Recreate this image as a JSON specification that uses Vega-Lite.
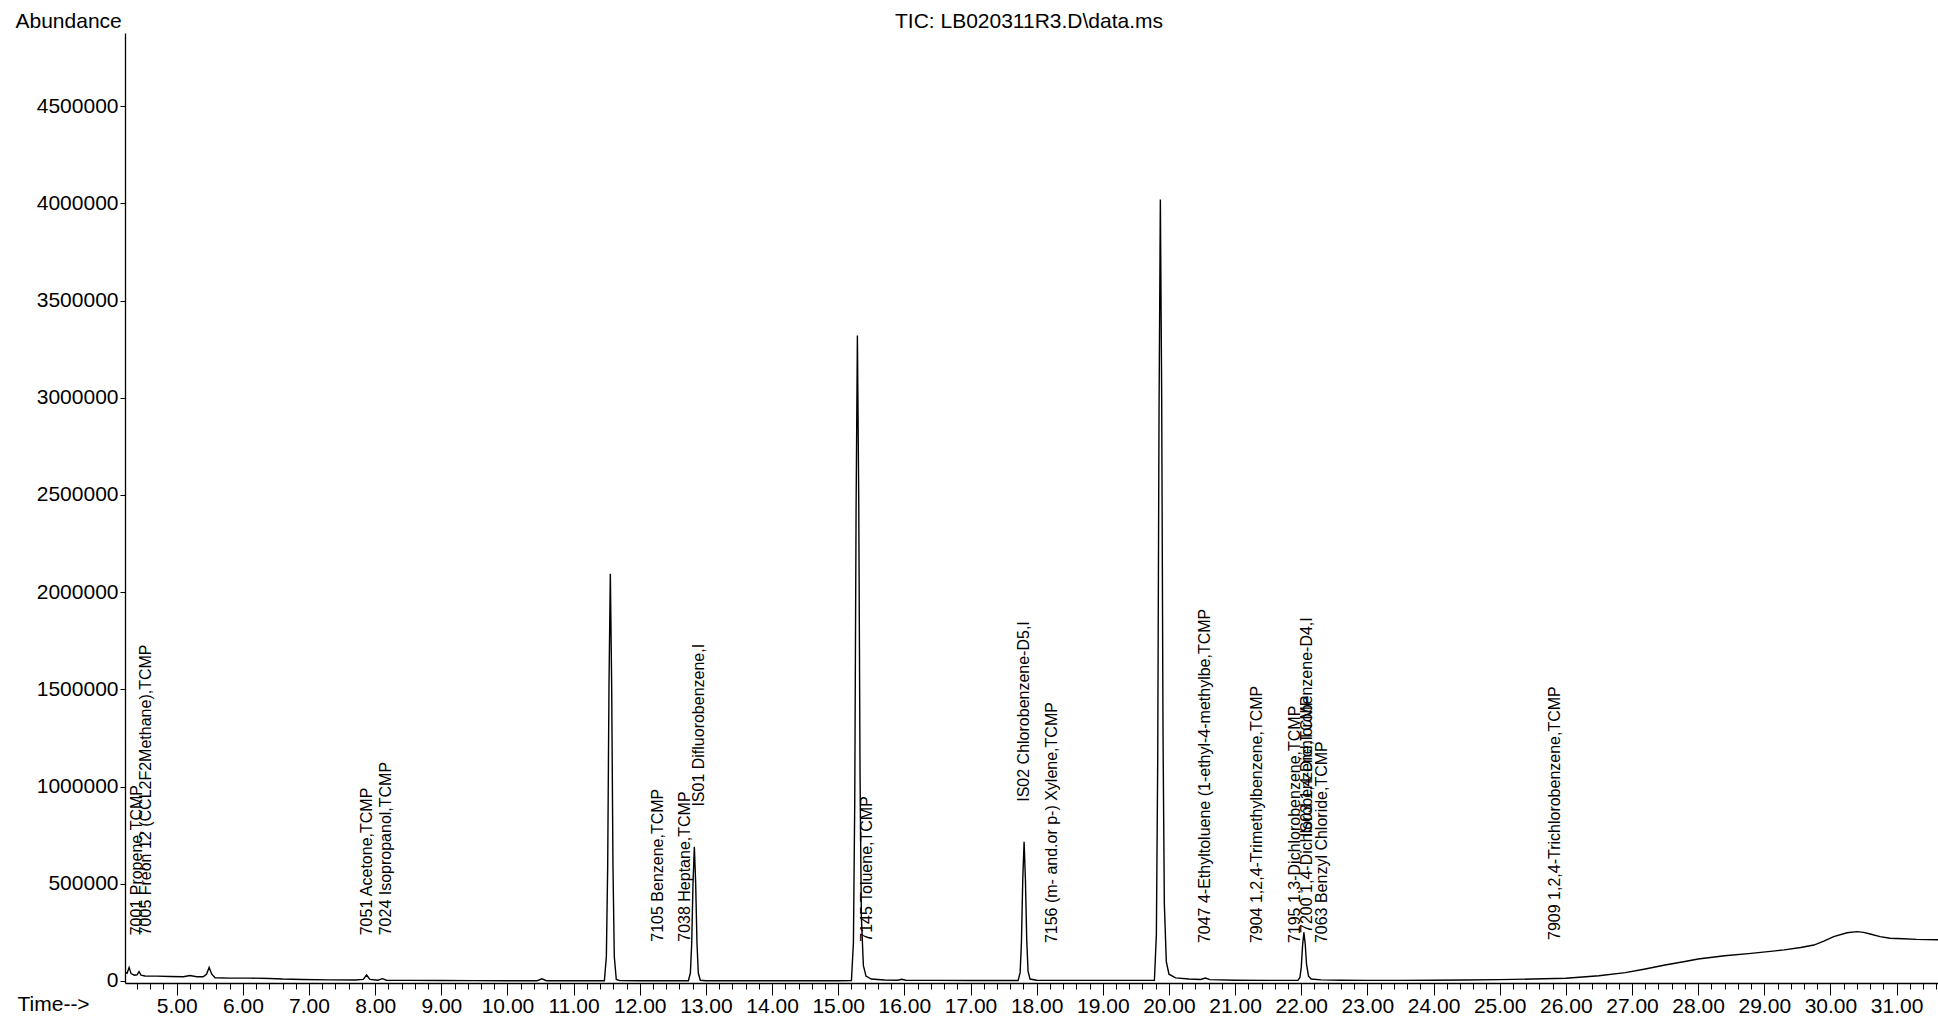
{
  "$schema": "https://vega.github.io/schema/vega-lite/v6.json",
  "width": 1813,
  "height": 950,
  "autosize": {"type": "none"},
  "padding": {"left": 125, "top": 33, "right": 0, "bottom": 43},
  "background": "white",
  "config": {"view": {"stroke": null}, "font": "Liberation Sans"},
  "resolve": {"axis": {"x": "independent", "y": "independent"}},
  "datasets": {
    "trace": [
      {"t": 4.218, "v": 45000}, {"t": 4.25, "v": 40000}, {"t": 4.28, "v": 70000}, {"t": 4.31, "v": 38000},
      {"t": 4.36, "v": 30000}, {"t": 4.40, "v": 32000}, {"t": 4.43, "v": 48000}, {"t": 4.46, "v": 30000},
      {"t": 4.52, "v": 26000}, {"t": 4.7, "v": 25000}, {"t": 4.9, "v": 23000}, {"t": 5.1, "v": 22000},
      {"t": 5.2, "v": 28000}, {"t": 5.3, "v": 22000}, {"t": 5.40, "v": 22000}, {"t": 5.45, "v": 35000},
      {"t": 5.49, "v": 70000}, {"t": 5.53, "v": 35000}, {"t": 5.58, "v": 17000}, {"t": 5.8, "v": 15000},
      {"t": 6.1, "v": 15000}, {"t": 6.4, "v": 13000}, {"t": 6.6, "v": 10000}, {"t": 6.9, "v": 8000},
      {"t": 7.3, "v": 6000}, {"t": 7.7, "v": 5000}, {"t": 7.82, "v": 8000}, {"t": 7.87, "v": 31000},
      {"t": 7.92, "v": 8000}, {"t": 8.04, "v": 4000}, {"t": 8.11, "v": 12000}, {"t": 8.17, "v": 4000},
      {"t": 8.5, "v": 3000}, {"t": 9.0, "v": 2500}, {"t": 9.5, "v": 2000}, {"t": 10.0, "v": 1500},
      {"t": 10.45, "v": 1500}, {"t": 10.52, "v": 11000}, {"t": 10.59, "v": 1500}, {"t": 11.0, "v": 1000},
      {"t": 11.465, "v": 1500}, {"t": 11.495, "v": 126000}, {"t": 11.515, "v": 587000}, {"t": 11.535, "v": 1530000},
      {"t": 11.555, "v": 2095000}, {"t": 11.575, "v": 1530000}, {"t": 11.595, "v": 587000}, {"t": 11.615, "v": 126000},
      {"t": 11.645, "v": 8000}, {"t": 11.7, "v": 2000}, {"t": 12.0, "v": 1500}, {"t": 12.5, "v": 1500},
      {"t": 12.735, "v": 1500}, {"t": 12.765, "v": 41000}, {"t": 12.785, "v": 193000}, {"t": 12.805, "v": 504000},
      {"t": 12.825, "v": 690000}, {"t": 12.845, "v": 504000}, {"t": 12.865, "v": 193000}, {"t": 12.885, "v": 41000},
      {"t": 12.915, "v": 4000}, {"t": 13.0, "v": 1500}, {"t": 14.0, "v": 1000}, {"t": 15.0, "v": 1500},
      {"t": 15.2, "v": 2000}, {"t": 15.23, "v": 199000}, {"t": 15.25, "v": 930000}, {"t": 15.27, "v": 2420000},
      {"t": 15.29, "v": 3320000}, {"t": 15.31, "v": 2490000}, {"t": 15.33, "v": 1060000}, {"t": 15.35, "v": 330000},
      {"t": 15.38, "v": 80000}, {"t": 15.42, "v": 25000}, {"t": 15.5, "v": 10000}, {"t": 15.7, "v": 5000},
      {"t": 15.9, "v": 4000}, {"t": 15.96, "v": 9000}, {"t": 16.02, "v": 4000}, {"t": 16.5, "v": 3000},
      {"t": 17.0, "v": 2500}, {"t": 17.72, "v": 2500}, {"t": 17.75, "v": 43000}, {"t": 17.77, "v": 200000},
      {"t": 17.79, "v": 523000}, {"t": 17.81, "v": 716000}, {"t": 17.83, "v": 523000}, {"t": 17.85, "v": 210000},
      {"t": 17.87, "v": 50000}, {"t": 17.9, "v": 10000}, {"t": 18.0, "v": 4000}, {"t": 18.5, "v": 3000},
      {"t": 19.0, "v": 3000}, {"t": 19.5, "v": 3000}, {"t": 19.78, "v": 4000}, {"t": 19.81, "v": 241000},
      {"t": 19.83, "v": 1130000}, {"t": 19.85, "v": 2930000}, {"t": 19.87, "v": 4020000}, {"t": 19.89, "v": 3010000},
      {"t": 19.91, "v": 1290000}, {"t": 19.93, "v": 400000}, {"t": 19.96, "v": 100000}, {"t": 20.0, "v": 35000},
      {"t": 20.1, "v": 16000}, {"t": 20.3, "v": 10000}, {"t": 20.48, "v": 8000}, {"t": 20.55, "v": 15000},
      {"t": 20.62, "v": 7000}, {"t": 21.0, "v": 4000}, {"t": 21.5, "v": 3000}, {"t": 21.95, "v": 3000},
      {"t": 21.98, "v": 18000}, {"t": 22.0, "v": 70000}, {"t": 22.02, "v": 183000}, {"t": 22.04, "v": 250000},
      {"t": 22.06, "v": 190000}, {"t": 22.08, "v": 85000}, {"t": 22.11, "v": 25000}, {"t": 22.15, "v": 10000},
      {"t": 22.3, "v": 6000}, {"t": 22.6, "v": 4000}, {"t": 23.0, "v": 3000}, {"t": 23.5, "v": 3000},
      {"t": 24.0, "v": 4000}, {"t": 24.5, "v": 5000}, {"t": 25.0, "v": 7000}, {"t": 25.5, "v": 10000},
      {"t": 26.0, "v": 14000}, {"t": 26.5, "v": 27000}, {"t": 26.9, "v": 43000}, {"t": 27.2, "v": 62000},
      {"t": 27.5, "v": 82000}, {"t": 27.8, "v": 100000}, {"t": 28.0, "v": 113000}, {"t": 28.4, "v": 130000},
      {"t": 28.8, "v": 142000}, {"t": 29.3, "v": 160000}, {"t": 29.55, "v": 172000}, {"t": 29.75, "v": 185000},
      {"t": 29.9, "v": 205000}, {"t": 30.05, "v": 228000}, {"t": 30.25, "v": 248000}, {"t": 30.4, "v": 254000},
      {"t": 30.5, "v": 250000}, {"t": 30.6, "v": 242000}, {"t": 30.75, "v": 228000}, {"t": 30.9, "v": 220000},
      {"t": 31.1, "v": 217000}, {"t": 31.3, "v": 214000}, {"t": 31.45, "v": 213000}, {"t": 31.626, "v": 212000}
    ],
    "labels": [
      {"t": 4.40, "v": 235000, "label": "7001 Propene,TCMP"},
      {"t": 4.54, "v": 235000, "label": "7005 Freon 12 (CCL2F2Methane),TCMP"},
      {"t": 7.87, "v": 235000, "label": "7051 Acetone,TCMP"},
      {"t": 8.16, "v": 235000, "label": "7024 Isopropanol,TCMP"},
      {"t": 12.27, "v": 202000, "label": "7105 Benzene,TCMP"},
      {"t": 12.68, "v": 202000, "label": "7038 Heptane,TCMP"},
      {"t": 12.89, "v": 897000, "label": "IS01 Difluorobenzene,I"},
      {"t": 15.44, "v": 202000, "label": "7145 Toluene,TCMP"},
      {"t": 17.81, "v": 922000, "label": "IS02 Chlorobenzene-D5,I"},
      {"t": 18.23, "v": 195000, "label": "7156 (m- and.or p-) Xylene,TCMP"},
      {"t": 20.55, "v": 195000, "label": "7047 4-Ethyltoluene (1-ethyl-4-methylbe,TCMP"},
      {"t": 21.33, "v": 195000, "label": "7904 1,2,4-Trimethylbenzene,TCMP"},
      {"t": 21.91, "v": 195000, "label": "7195 1,3-Dichlorobenzene,TCMP"},
      {"t": 22.08, "v": 247000, "label": "7200 1,4-Dichlorobenzene,TCMP"},
      {"t": 22.08, "v": 741000, "label": "IS03 1,4-Dichlorobenzene-D4,I"},
      {"t": 22.31, "v": 195000, "label": "7063 Benzyl Chloride,TCMP"},
      {"t": 25.84, "v": 211000, "label": "7909 1,2,4-Trichlorobenzene,TCMP"}
    ]
  },
  "layer": [
    {
      "data": {"name": "trace"},
      "mark": {"type": "line", "color": "black", "strokeWidth": 1.4, "clip": true},
      "encoding": {
        "x": {
          "field": "t", "type": "quantitative",
          "scale": {"domain": [4.218, 31.626], "nice": false, "zero": false},
          "axis": {
            "orient": "bottom",
            "title": "Time-->", "titleX": -108, "titleY": 21, "titleAlign": "left", "titleBaseline": "middle",
            "titleFontSize": 21, "titleFontWeight": "normal", "titleColor": "black", "titleFont": "Liberation Sans",
            "values": [5, 6, 7, 8, 9, 10, 11, 12, 13, 14, 15, 16, 17, 18, 19, 20, 21, 22, 23, 24, 25, 26, 27, 28, 29, 30, 31],
            "format": ".2f",
            "labelFontSize": 21, "labelColor": "black", "labelFont": "Liberation Sans",
            "labelPadding": 0, "labelOverlap": false, "labelFlush": false,
            "tickSize": 12, "tickColor": "black", "tickWidth": 1, "domainColor": "black", "domainWidth": 1.3, "grid": false
          }
        },
        "y": {
          "field": "v", "type": "quantitative",
          "scale": {"domain": [-10300, 4876500], "nice": false, "zero": false},
          "axis": {
            "orient": "left",
            "title": "Abundance", "titleAngle": 0, "titleX": -110, "titleY": -6, "titleAlign": "left", "titleBaseline": "alphabetic",
            "titleFontSize": 21, "titleFontWeight": "normal", "titleColor": "black", "titleFont": "Liberation Sans",
            "values": [0, 500000, 1000000, 1500000, 2000000, 2500000, 3000000, 3500000, 4000000, 4500000],
            "format": "d", "labelFontSize": 21, "labelColor": "black", "labelFont": "Liberation Sans",
            "labelPadding": 2, "tickSize": 5, "tickColor": "black", "domainColor": "black", "domainWidth": 1.3, "grid": false
          }
        }
      }
    },
    {
      "data": {"name": "labels"},
      "mark": {"type": "text", "angle": 270, "align": "left", "baseline": "middle", "fontSize": 16, "font": "Liberation Sans", "color": "black"},
      "encoding": {
        "x": {
          "field": "t", "type": "quantitative",
          "axis": {
            "orient": "bottom", "title": null, "labels": false, "domain": false, "grid": false,
            "values": [4.4, 4.6, 4.8, 5.2, 5.4, 5.6, 5.8, 6.2, 6.4, 6.6, 6.8, 7.2, 7.4, 7.6, 7.8, 8.2, 8.4, 8.6, 8.8, 9.2, 9.4, 9.6, 9.8, 10.2, 10.4, 10.6, 10.8, 11.2, 11.4, 11.6, 11.8, 12.2, 12.4, 12.6, 12.8, 13.2, 13.4, 13.6, 13.8, 14.2, 14.4, 14.6, 14.8, 15.2, 15.4, 15.6, 15.8, 16.2, 16.4, 16.6, 16.8, 17.2, 17.4, 17.6, 17.8, 18.2, 18.4, 18.6, 18.8, 19.2, 19.4, 19.6, 19.8, 20.2, 20.4, 20.6, 20.8, 21.2, 21.4, 21.6, 21.8, 22.2, 22.4, 22.6, 22.8, 23.2, 23.4, 23.6, 23.8, 24.2, 24.4, 24.6, 24.8, 25.2, 25.4, 25.6, 25.8, 26.2, 26.4, 26.6, 26.8, 27.2, 27.4, 27.6, 27.8, 28.2, 28.4, 28.6, 28.8, 29.2, 29.4, 29.6, 29.8, 30.2, 30.4, 30.6, 30.8, 31.2, 31.4, 31.6],
            "tickSize": 6, "tickColor": "black", "tickWidth": 1
          }
        },
        "y": {
          "field": "v", "type": "quantitative",
          "axis": {
            "orient": "right", "labels": false, "ticks": false, "domain": false, "grid": false,
            "title": "TIC: LB020311R3.D\\data.ms", "titleAngle": 0, "titleX": -909.5, "titleY": -6,
            "titleAlign": "center", "titleBaseline": "alphabetic",
            "titleFontSize": 21, "titleFontWeight": "normal", "titleColor": "black", "titleFont": "Liberation Sans"
          }
        },
        "text": {"field": "label"}
      }
    }
  ]
}
